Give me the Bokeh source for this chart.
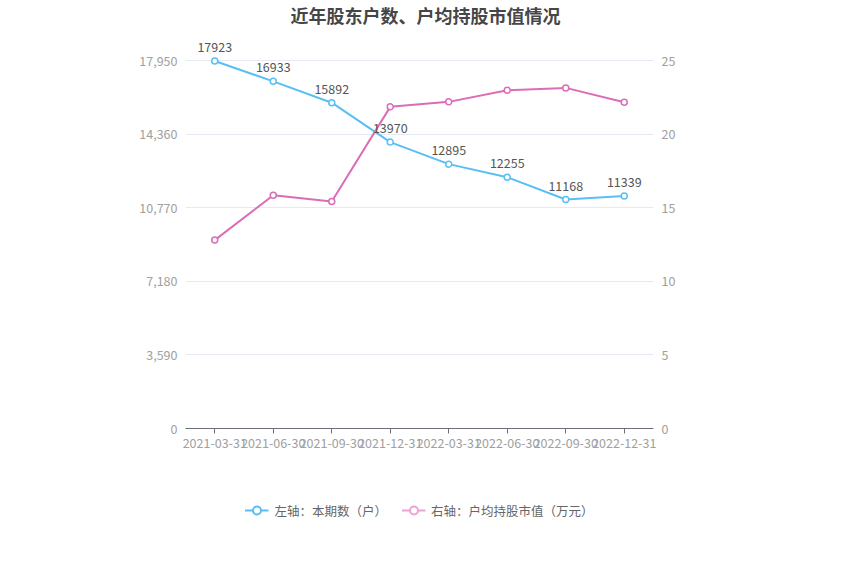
from bokeh.plotting import figure
from bokeh.layouts import column
from bokeh.models import (Range1d, LinearAxis, FixedTicker, Legend, LegendItem,
                          ColumnDataSource, Label, NumeralTickFormatter)
from bokeh.embed import file_html
from bokeh.resources import INLINE
from bokeh.core.properties import value

dates = ["2021-03-31", "2021-06-30", "2021-09-30", "2021-12-31",
         "2022-03-31", "2022-06-30", "2022-09-30", "2022-12-31"]
holders = [17923, 16933, 15892, 13970, 12895, 12255, 11168, 11339]
avg_value = [12.8, 15.85, 15.42, 21.85, 22.19, 22.98, 23.14, 22.16]
left_ticks = [0, 3590, 7180, 10770, 14360, 17950]
right_ticks = [0, 5, 10, 15, 20, 25]
series_names = ["左轴：本期数（户）", "右轴：户均持股市值（万元）"]

FONT = "Noto Sans CJK SC"
BLUE = "#58BFF5"
PINK = "#DB6DB7"
PINK_LIGHT = "#EBA3D4"
GRAY = "#A0A0A0"

EXT = 428.0 / 368.0

src = ColumnDataSource(dict(x=dates, h=holders, v=avg_value,
                            lab=[str(h) for h in holders]))

p = figure(width=850, height=474, x_range=dates,
           y_range=Range1d(0, left_ticks[-1] * EXT),
           output_backend="svg", toolbar_location=None,
           min_border_left=185, min_border_right=197, min_border_top=0,
           min_border_bottom=46)
p.outline_line_color = None
p.extra_y_ranges = {"r": Range1d(0, right_ticks[-1] * EXT)}

ya = p.yaxis[0]
ya.ticker = FixedTicker(ticks=left_ticks)
ya.formatter = NumeralTickFormatter(format="0,0")
ya.axis_line_color = None
ya.major_tick_line_color = None
ya.minor_tick_line_color = None
ya.major_tick_out = 0
ya.major_tick_in = 0
ya.major_label_text_color = GRAY
ya.major_label_text_font = FONT
ya.major_label_text_font_size = "12.5px"
ya.major_label_standoff = 8

ra = LinearAxis(y_range_name="r", ticker=FixedTicker(ticks=right_ticks))
ra.axis_line_color = None
ra.major_tick_line_color = None
ra.minor_tick_line_color = None
ra.major_tick_out = 0
ra.major_tick_in = 0
ra.major_label_text_color = GRAY
ra.major_label_text_font = FONT
ra.major_label_text_font_size = "12.5px"
ra.major_label_standoff = 8
p.add_layout(ra, "right")

xa = p.xaxis[0]
xa.axis_line_color = "#6E7079"
xa.major_tick_line_color = "#6E7079"
xa.major_tick_in = 0
xa.major_tick_out = 5
xa.major_label_text_color = GRAY
xa.major_label_text_font = FONT
xa.major_label_text_font_size = "12.5px"
xa.major_label_standoff = 4

p.xgrid.grid_line_color = None
p.ygrid.grid_line_color = "#E6E9F2"
p.ygrid.ticker = FixedTicker(ticks=left_ticks)

p.line("x", "h", source=src, color=BLUE, line_width=2)
p.scatter("x", "h", source=src, size=6, fill_color="white",
          line_color=BLUE, line_width=1.5)
p.line("x", "v", source=src, color=PINK, line_width=2, y_range_name="r")
p.scatter("x", "v", source=src, size=6, fill_color="white",
          line_color=PINK, line_width=1.5, y_range_name="r")

p.text("x", "h", text="lab", source=src, text_align="center",
       text_baseline="bottom", y_offset=-9, text_color="#555555",
       text_font=value(FONT), text_font_size="12.5px")

title = Label(x=240, y=414, x_units="screen", y_units="screen",
              text="近年股东户数、户均持股市值情况", text_align="center",
              text_baseline="middle", text_font=FONT, text_font_size="18px",
              text_font_style="bold", text_color="#464646")
p.add_layout(title)

# legend strip (series drawn out of view, only their legend glyphs show)
q = figure(width=850, height=72, x_range=dates, y_range=Range1d(-2, -1),
           output_backend="svg", toolbar_location=None,
           x_axis_type=None, y_axis_type=None, min_border=0)
q.outline_line_color = None
q.grid.visible = False
ql1 = q.line("x", "h", source=src, color=BLUE, line_width=2)
qc1 = q.scatter("x", "h", source=src, size=10, fill_color="white",
                line_color=BLUE, line_width=2)
ql2 = q.line("x", "v", source=src, color=PINK_LIGHT, line_width=2)
qc2 = q.scatter("x", "v", source=src, size=10, fill_color="white",
                line_color=PINK_LIGHT, line_width=2)
legend = Legend(items=[LegendItem(label=series_names[0], renderers=[ql1, qc1]),
                       LegendItem(label=series_names[1], renderers=[ql2, qc2])],
                orientation="horizontal", location="center",
                label_text_font=FONT, label_text_font_size="12.5px",
                label_text_color="#666666", background_fill_alpha=0,
                border_line_color=None, glyph_width=24, spacing=14,
                label_standoff=6)
q.add_layout(legend, "center")

layout = column(p, q, spacing=0)
open("out.html", "w").write(file_html(layout, INLINE))
